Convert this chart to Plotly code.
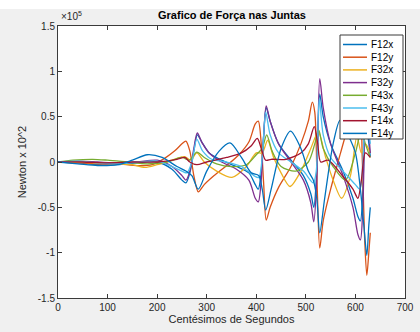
import plotly.graph_objects as go

# ---- data (values in units of 1e5 N) ----
x_f12x = [0, 40, 80, 120, 160, 200, 230, 250, 258, 266, 274, 281, 290, 305, 330, 360, 385, 398, 404, 410, 415, 420, 428, 445, 470, 495, 510, 516, 522, 528, 535, 550, 575, 595, 605, 610, 615, 620, 625, 630]
y_f12x = [0, -0.01, -0.03, -0.03, -0.01, 0.0, -0.08, -0.2, -0.23, -0.12, 0.12, 0.3, 0.22, 0.1, 0.02, -0.05, -0.12, -0.25, -0.3, -0.1, 0.3, 0.6, 0.45, 0.2, 0.02, -0.15, -0.35, -0.5, -0.1, 0.75, 0.5, 0.2, -0.1, -0.4, -0.6, -0.65, -0.3, 0.5, 0.3, 0.06]

x_f12y = [0, 40, 80, 120, 160, 190, 215, 235, 250, 258, 266, 274, 283, 295, 315, 340, 365, 385, 398, 404, 410, 415, 420, 428, 445, 470, 490, 505, 513, 518, 523, 528, 535, 550, 570, 590, 602, 608, 614, 619, 623, 627, 630]
y_f12y = [0, -0.01, -0.02, -0.02, -0.04, -0.03, 0.04, 0.12, 0.2, 0.23, 0.12, -0.15, -0.33, -0.25, -0.15, -0.04, 0.08, 0.22, 0.42, 0.45, 0.2, -0.25, -0.64, -0.5, -0.28, -0.05, 0.2, 0.45, 0.66, 0.55, -0.3, -0.95, -0.65, -0.3, 0.1, 0.5, 0.8, 0.75, 0.0, -0.9, -1.25, -1.0, -0.78]

x_f32x = [0, 40, 80, 120, 150, 175, 200, 230, 255, 268, 280, 295, 320, 351, 380, 400, 412, 423, 435, 450, 468, 490, 510, 525, 540, 555, 572, 590, 603, 612, 620, 630]
y_f32x = [0, 0.0, -0.01, -0.02, -0.03, -0.06, -0.03, 0.02, 0.06, 0.02, 0.1, 0.0, -0.1, -0.17, -0.05, 0.1, 0.1, 0.24, 0.05, -0.12, -0.27, -0.1, 0.15, 0.33, 0.05, -0.2, -0.4, -0.15, 0.28, 0.1, 0.2, 0.1]

x_f32y = [0, 40, 80, 120, 160, 200, 230, 250, 258, 266, 274, 281, 290, 305, 330, 360, 385, 398, 404, 410, 415, 420, 428, 445, 470, 495, 510, 516, 522, 528, 535, 550, 575, 595, 605, 610, 615, 621, 626, 630]
y_f32y = [0, 0.01, 0.0, -0.01, 0.0, 0.02, -0.05, -0.15, -0.2, -0.1, 0.15, 0.32, 0.22, 0.1, 0.0, -0.08, -0.2, -0.4, -0.44, -0.2, 0.3, 0.62, 0.45, 0.2, 0.0, -0.2, -0.45, -0.66, -0.2, 0.92, 0.6, 0.2, -0.15, -0.5, -0.8, -0.86, -0.5, 0.85, 0.4, 0.1]

x_f43x = [0, 30, 70, 100, 140, 180, 220, 250, 265, 280, 295, 320, 350, 380, 400, 412, 421, 432, 450, 480, 505, 518, 526, 535, 555, 580, 600, 612, 620, 630]
y_f43x = [0, 0.02, 0.03, 0.02, 0.0, -0.02, 0.0, 0.05, 0.02, 0.11, 0.05, -0.02, -0.05, -0.03, 0.08, 0.15, 0.3, 0.12, -0.05, -0.1, 0.0, 0.2, 0.35, 0.15, -0.05, -0.2, 0.1, 0.35, 0.2, 0.05]

x_f43y = [0, 40, 80, 120, 160, 200, 230, 250, 260, 270, 280, 292, 310, 340, 370, 395, 405, 412, 419, 428, 445, 470, 495, 515, 521, 527, 535, 550, 575, 600, 609, 615, 621, 630]
y_f43y = [0, 0.01, -0.01, -0.02, 0.0, 0.01, -0.05, -0.1, -0.12, 0.0, 0.25, 0.12, 0.03, 0.0, -0.05, -0.15, -0.17, 0.05, 0.55, 0.3, 0.1, 0.0, -0.1, -0.23, -0.1, 0.7, 0.3, 0.05, -0.1, -0.25, -0.3, 0.0, 0.6, 0.2]

x_f14x = [0, 50, 100, 150, 200, 240, 256, 266, 280, 300, 340, 370, 390, 402, 410, 419, 430, 460, 490, 505, 517, 524, 530, 545, 575, 595, 605, 612, 620, 630]
y_f14x = [0, 0.0, -0.01, 0.0, 0.0, 0.03, 0.05, 0.0, -0.03, 0.0, 0.05, 0.1, 0.18, 0.26, 0.15, 0.02, 0.03, 0.03, 0.1, 0.2, 0.39, 0.2, 0.0, 0.02, -0.16, -0.3, -0.4, -0.2, 0.1, 0.05]

x_f14y = [0, 40, 80, 120, 150, 180, 210, 240, 258, 270, 283, 300, 325, 347, 370, 390, 405, 412, 419, 430, 450, 469, 490, 505, 515, 522, 528, 538, 555, 569, 585, 600, 610, 617, 623, 627, 630]
y_f14y = [0, -0.02, -0.04, -0.03, 0.02, 0.08, 0.05, -0.05, -0.1, -0.15, -0.3, -0.1, 0.12, 0.21, 0.05, -0.12, -0.15, -0.3, -0.53, -0.3, 0.15, 0.34, 0.15, -0.1, -0.2, -0.4, -0.78, -0.4, 0.2, 0.46, 0.3, 0.1, -0.3, -0.7, -1.03, -0.7, -0.5]

series = [
    ("F12x", x_f12x, y_f12x, "#0072BD"),
    ("F12y", x_f12y, y_f12y, "#D95319"),
    ("F32x", x_f32x, y_f32x, "#EDB120"),
    ("F32y", x_f32y, y_f32y, "#7E2F8E"),
    ("F43x", x_f43x, y_f43x, "#77AC30"),
    ("F43y", x_f43y, y_f43y, "#4DBEEE"),
    ("F14x", x_f14x, y_f14x, "#A2142F"),
    ("F14y", x_f14y, y_f14y, "#0072BD"),
]

x_ticks = [0, 100, 200, 300, 400, 500, 600, 700]
y_ticks = [-1.5, -1, -0.5, 0, 0.5, 1, 1.5]
y_ticklabels = ["-1.5", "-1", "-0.5", "0", "0.5", "1", "1.5"]

FONT = "Liberation Sans, Arial, Helvetica, sans-serif"
AX = "#3a3a3a"

W, H = 420, 332
L, R, T, B = 58, 15, 26, 34
PW, PH = W - L - R, H - T - B


def px_to_paper(px, py):
    return (px - L) / PW, 1 - (py - T) / PH


fig = go.Figure()
for name, xs, ys, col in series:
    fig.add_trace(go.Scatter(x=xs, y=ys, mode="lines", name=name, showlegend=False,
                             line=dict(color=col, width=1.3, shape="spline", smoothing=0.8)))

fig.update_layout(
    width=W, height=H,
    margin=dict(l=L, r=R, t=T, b=B, autoexpand=False),
    paper_bgcolor="#f0f0f0", plot_bgcolor="white",
    font=dict(family=FONT, size=10, color="#262626"),
    title=dict(text="<b>Grafico de Força nas Juntas</b>", x=(232) / W, xanchor="center",
               y=1 - 15 / H, yanchor="middle", font=dict(size=11, color="#000")),
    showlegend=False,
    xaxis=dict(range=[0, 700], tickvals=x_ticks, ticks="inside", ticklen=4, tickcolor=AX,
               showline=True, linecolor=AX, linewidth=1, mirror="ticks",
               showgrid=False, zeroline=False, tickfont=dict(size=10), automargin=False,
               title=dict(text="Centésimos de Segundos", font=dict(size=11), standoff=1)),
    yaxis=dict(range=[-1.5, 1.5], tickvals=y_ticks, ticktext=y_ticklabels,
               ticks="inside", ticklen=4, tickcolor=AX,
               showline=True, linecolor=AX, linewidth=1, mirror="ticks",
               showgrid=False, zeroline=False, tickfont=dict(size=10), automargin=False,
               title=dict(text="Newton x 10^2", font=dict(size=11), standoff=8)),
)

# white strip at top of image
fig.add_shape(type="rect", xref="paper", yref="paper", x0=-0.3, x1=1.2,
              y0=px_to_paper(0, 9)[1], y1=px_to_paper(0, -2)[1],
              fillcolor="white", line_width=0, layer="above")
fig.add_annotation(text="×10<sup>5</sup>", xref="paper", yref="paper",
                   x=px_to_paper(59, 0)[0], y=px_to_paper(0, 24)[1],
                   xanchor="left", yanchor="bottom", showarrow=False,
                   font=dict(size=10, color="#262626"))

# legend box (drawn as layout decoration)
bx0, by1 = px_to_paper(340, 35)
bx1, by0 = px_to_paper(403, 139)
fig.add_shape(type="rect", xref="paper", yref="paper", x0=bx0, x1=bx1, y0=by0, y1=by1,
              fillcolor="white", line=dict(color=AX, width=1), layer="above")
row0, step = 44.5, 12.7
for i, (name, xs, ys, col) in enumerate(series):
    ry = row0 + i * step
    lx0, ly = px_to_paper(343, ry)
    lx1, _ = px_to_paper(367, ry)
    fig.add_shape(type="line", xref="paper", yref="paper", x0=lx0, x1=lx1, y0=ly, y1=ly,
                  line=dict(color=col, width=1.5), layer="above")
    tx, _ = px_to_paper(369, ry)
    fig.add_annotation(text=name, xref="paper", yref="paper", x=tx, y=ly,
                       xanchor="left", yanchor="middle", showarrow=False,
                       font=dict(size=10, color="#000"))

fig.write_html("out.html", config={"displayModeBar": False},
               post_script="document.body.style.margin='0';document.body.style.padding='0';")
